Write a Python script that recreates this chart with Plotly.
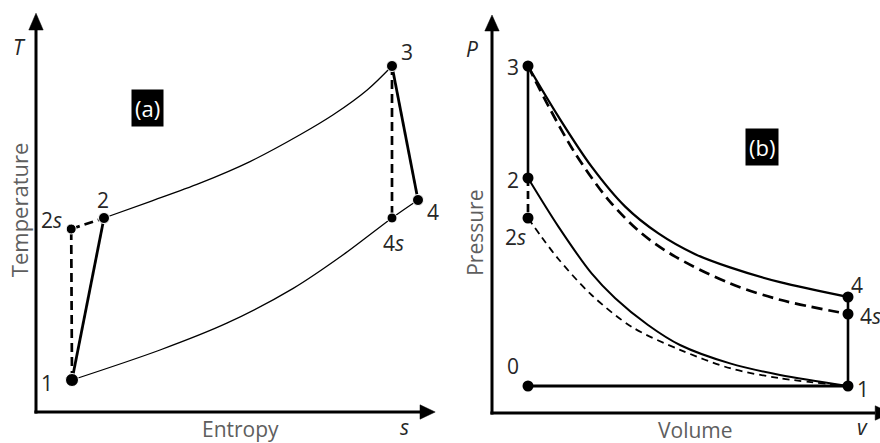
import plotly.graph_objects as go

# ---------------- (a) T-s diagram: state points (entropy s, temperature T) ----------------
ts_names = ["1", "2<i>s</i>", "2", "3", "4<i>s</i>", "4"]
ts_s = [0.9, 0.88, 1.7, 8.9, 8.9, 9.55]
ts_T = [0.8, 4.575, 4.85, 8.65, 4.85, 5.3]

# high-pressure isobar 2 -> 3
ts_hi_s = [1.7, 2.85, 4.1, 5.35, 6.6, 7.43, 8.28, 8.9]
ts_hi_T = [4.85, 5.26, 5.72, 6.26, 6.93, 7.43, 8.05, 8.65]
# low-pressure isobar 1 -> 4s -> 4
ts_lo_s = [0.9, 3.1, 4.77, 6.43, 7.68, 8.9, 9.55]
ts_lo_T = [0.8, 1.55, 2.22, 3.09, 3.93, 4.85, 5.3]

# ---------------- (b) P-v diagram: state points (volume v, pressure P) ----------------
pv_names = ["0", "1", "2<i>s</i>", "2", "3", "4<i>s</i>", "4"]
pv_v = [0.9, 8.9, 0.9, 0.9, 0.9, 8.9, 8.9]
pv_P = [0.675, 0.675, 4.875, 5.875, 8.675, 2.475, 2.9]

# actual expansion 3 -> 4
pv_exp_v = [0.9, 1.66, 2.49, 3.33, 4.16, 5.08, 5.95, 7.2, 8.9]
pv_exp_P = [8.675, 7.41, 6.16, 5.16, 4.49, 3.97, 3.64, 3.27, 2.9]
# isentropic expansion 3 -> 4s
pv_exps_v = [0.9, 1.45, 2.08, 2.91, 3.74, 4.58, 5.95, 7.2, 8.9]
pv_exps_P = [8.675, 7.6, 6.49, 5.33, 4.49, 3.91, 3.24, 2.83, 2.475]
# actual compression 1 -> 2
pv_cmp_v = [0.9, 1.66, 2.49, 3.08, 3.9, 4.7, 5.95, 7.2, 8.9]
pv_cmp_P = [5.875, 4.66, 3.49, 2.87, 2.2, 1.7, 1.24, 0.95, 0.675]
# isentropic compression 1 -> 2s
pv_cmps_v = [0.9, 1.24, 1.66, 2.49, 3.5, 4.7, 5.95, 7.2, 8.9]
pv_cmps_P = [4.875, 4.4, 3.85, 2.95, 2.15, 1.58, 1.12, 0.87, 0.675]

BLACK = "#000000"
FONT = "Open Sans"
TITLE_GREY = "#5e5e5e"
LABEL_GREY = "#262626"

fig = go.Figure()


def line(xs, ys, width, dash="solid", ax=("x", "y"), spline=False):
    fig.add_trace(go.Scatter(
        x=xs, y=ys, mode="lines", xaxis=ax[0], yaxis=ax[1],
        line=dict(color=BLACK, width=width, dash=dash,
                  shape="spline" if spline else "linear", smoothing=0.9),
        hoverinfo="skip"))


def pick(names, xs, ys, keys):
    idx = [names.index(k) for k in keys]
    return [xs[i] for i in idx], [ys[i] for i in idx]


# ---- panel (a) ----
A = ("x", "y")
line(ts_hi_s, ts_hi_T, 1.3, ax=A, spline=True)
line(ts_lo_s, ts_lo_T, 1.3, ax=A, spline=True)
line(*pick(ts_names, ts_s, ts_T, ["1", "2"]), 2.8, ax=A)
line(*pick(ts_names, ts_s, ts_T, ["3", "4"]), 2.8, ax=A)
line(*pick(ts_names, ts_s, ts_T, ["1", "2<i>s</i>"]), 2.7, dash="9px,5px", ax=A)
line(*pick(ts_names, ts_s, ts_T, ["2<i>s</i>", "2"]), 2.7, dash="9px,5px", ax=A)
line(*pick(ts_names, ts_s, ts_T, ["3", "4<i>s</i>"]), 2.7, dash="9px,5px", ax=A)
fig.add_trace(go.Scatter(
    x=ts_s, y=ts_T, mode="markers", xaxis="x", yaxis="y",
    marker=dict(color=BLACK, opacity=1, size=[13, 10, 11, 11, 10, 11]),
    hoverinfo="skip"))

# ---- panel (b) ----
B = ("x2", "y2")
line(pv_exp_v, pv_exp_P, 2.3, ax=B, spline=True)
line(pv_exps_v, pv_exps_P, 2.7, dash="11px,6px", ax=B, spline=True)
line(pv_cmp_v, pv_cmp_P, 2.0, ax=B, spline=True)
line(pv_cmps_v, pv_cmps_P, 1.8, dash="7px,5px", ax=B, spline=True)
line(*pick(pv_names, pv_v, pv_P, ["3", "2"]), 2.6, ax=B)
line(*pick(pv_names, pv_v, pv_P, ["2", "2<i>s</i>"]), 2.7, dash="8px,5px", ax=B)
line(*pick(pv_names, pv_v, pv_P, ["4", "1"]), 2.6, ax=B)
line(*pick(pv_names, pv_v, pv_P, ["0", "1"]), 3.0, ax=B)
fig.add_trace(go.Scatter(
    x=pv_v, y=pv_P, mode="markers", xaxis="x2", yaxis="y2",
    marker=dict(color=BLACK, opacity=1, size=11), hoverinfo="skip"))

# ---- coordinate axes with arrowheads ----
shapes = []


def axis_arrows(xr, yr, x_end, y_end, x_tip, y_tip, half=0.18):
    shapes.append(dict(type="line", xref=xr, yref=yr, x0=0, y0=-0.04, x1=0, y1=y_end,
                       line=dict(color=BLACK, width=3)))
    shapes.append(dict(type="line", xref=xr, yref=yr, x0=-0.04, y0=0, x1=x_end, y1=0,
                       line=dict(color=BLACK, width=3)))
    shapes.append(dict(type="path", xref=xr, yref=yr,
                       path=f"M {-half},{y_end} L {half},{y_end} L 0,{y_tip} Z",
                       fillcolor=BLACK, line=dict(color=BLACK, width=0.5)))
    shapes.append(dict(type="path", xref=xr, yref=yr,
                       path=f"M {x_end},{-half} L {x_end},{half} L {x_tip},0 Z",
                       fillcolor=BLACK, line=dict(color=BLACK, width=0.5)))


axis_arrows("x", "y", 9.6, 9.55, 9.98, 9.97)
axis_arrows("x2", "y2", 9.58, 9.55, 9.98, 9.95)

# ---- text ----
ann = []


def text(x, y, s, xr, yr, size=21, color=LABEL_GREY, dx=0, dy=0, angle=0, **kw):
    ann.append(dict(x=x, y=y, xref=xr, yref=yr, text=s, showarrow=False,
                    xshift=dx, yshift=dy, textangle=angle,
                    font=dict(family=FONT, size=size, color=color), **kw))


ts_offsets = {"1": (-25, -3), "2<i>s</i>": (-20, 9), "2": (-1, 18),
              "3": (15, 14), "4<i>s</i>": (1, -25), "4": (15, -12)}
for n, xv, yv in zip(ts_names, ts_s, ts_T):
    dx, dy = ts_offsets[n]
    text(xv, yv, n, "x", "y", dx=dx, dy=dy)

pv_offsets = {"0": (-15, 20), "1": (15, -3), "2<i>s</i>": (-13, -19), "2": (-15, -2),
              "3": (-15, -1), "4<i>s</i>": (22, -2), "4": (9, 12)}
for n, xv, yv in zip(pv_names, pv_v, pv_P):
    dx, dy = pv_offsets[n]
    text(xv, yv, n, "x2", "y2", dx=dx, dy=dy)

# axis symbols and titles
text(-0.42, 9.13, "<i>T</i>", "x", "y")
text(9.2, -0.37, "<i>s</i>", "x", "y")
text(-0.5, 9.1, "<i>P</i>", "x2", "y2")
text(9.25, -0.35, "<i>v</i>", "x2", "y2")
text(-0.42, 5.05, "Temperature", "x", "y", size=22, color=TITLE_GREY, angle=-90)
text(5.1, -0.43, "Entropy", "x", "y", size=21, color=TITLE_GREY)
text(-0.43, 4.5, "Pressure", "x2", "y2", size=21, color=TITLE_GREY, angle=-90)
text(5.08, -0.42, "Volume", "x2", "y2", size=21, color=TITLE_GREY)

# panel tags
text(2.78, 7.6, "(a)", "x", "y", size=22, color="#ffffff", bgcolor=BLACK, borderpad=3)
text(6.75, 6.65, "(b)", "x2", "y2", size=22, color="#ffffff", bgcolor=BLACK, borderpad=3)

fig.update_layout(
    width=880, height=443,
    margin=dict(l=0, r=0, t=0, b=0),
    paper_bgcolor="white", plot_bgcolor="white",
    showlegend=False,
    xaxis=dict(domain=[0, 0.5], range=[-0.9, 10.1], visible=False, fixedrange=True),
    yaxis=dict(domain=[0, 1], range=[-0.775, 10.3], visible=False, fixedrange=True),
    xaxis2=dict(domain=[0.5, 1], range=[-1.3, 9.7], visible=False, fixedrange=True, anchor="y2"),
    yaxis2=dict(domain=[0, 1], range=[-0.75, 10.325], visible=False, fixedrange=True, anchor="x2"),
    shapes=shapes,
    annotations=ann,
)

fig.write_html("out.html")
